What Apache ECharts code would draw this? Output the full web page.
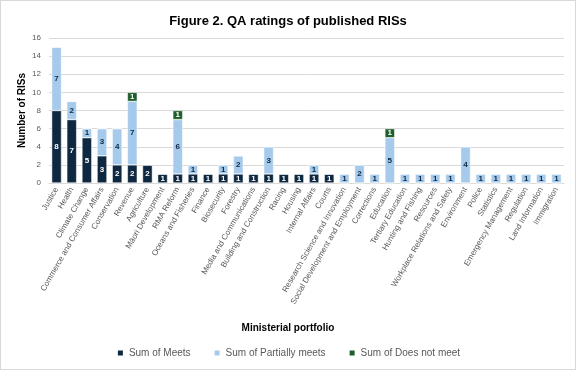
<!DOCTYPE html>
<html>
<head>
<meta charset="utf-8">
<script src="https://cdn.jsdelivr.net/npm/echarts@6/dist/echarts.min.js"></script>
<style>
  html, body { margin: 0; padding: 0; background: #fff; }
  #chart { width: 574px; height: 368px; border: 1px solid #d9d9d9; }
</style>
</head>
<body>
<div id="chart"></div>
<script>
// portfolios along the x axis
var portfolios = ['Justice', 'Health', 'Climate Change', 'Commerce and Consumer Affairs', 'Conservation',
  'Revenue', 'Agriculture', 'Māori Development', 'RMA Reform', 'Oceans and Fisheries', 'Finance',
  'Biosecurity', 'Forestry', 'Media and Communications', 'Building and Construction', 'Racing',
  'Housing', 'Internal Affairs', 'Courts', 'Research Science and Innovation',
  'Social Development and Employment', 'Corrections', 'Education', 'Tertiary Education',
  'Hunting and Fishing', 'Resources', 'Workplace Relations and Safety', 'Environment', 'Police',
  'Statistics', 'Emergency Management', 'Regulation', 'Land Information', 'Immigration'];

var meets =          [8, 7, 5, 3, 2, 2, 2, 1, 1, 1, 1, 1, 1, 1, 1, 1, 1, 1, 1, 0, 0, 0, 0, 0, 0, 0, 0, 0, 0, 0, 0, 0, 0, 0];
var partiallyMeets = [7, 2, 1, 3, 4, 7, 0, 0, 6, 1, 0, 1, 2, 0, 3, 0, 0, 1, 0, 1, 2, 1, 5, 1, 1, 1, 1, 4, 1, 1, 1, 1, 1, 1];
var doesNotMeet =    [0, 0, 0, 0, 0, 1, 0, 0, 1, 0, 0, 0, 0, 0, 0, 0, 0, 0, 0, 0, 0, 0, 1, 0, 0, 0, 0, 0, 0, 0, 0, 0, 0, 0];

var FONT = 'Liberation Sans';

var chart = echarts.init(document.getElementById('chart'));

function segLabel(color) {
  return {
    show: true,
    position: 'inside',
    color: color,
    fontSize: 8,
    fontWeight: 'bold',
    fontFamily: FONT,
    formatter: function (p) { return p.value > 0 ? p.value : ''; }
  };
}

function bars(name, data, color, labelColor) {
  return {
    name: name,
    type: 'bar',
    stack: 'total',
    barCategoryGap: '35%',
    data: data,
    itemStyle: { color: color, borderColor: '#ffffff', borderWidth: 0.5 },
    label: segLabel(labelColor)
  };
}

var option = {
  animation: false,
  textStyle: { fontFamily: FONT },
  title: [{
    text: 'Figure 2. QA ratings of published RISs',
    left: 'center',
    top: 9,
    textStyle: { fontSize: 13, fontWeight: 'bold', color: '#000', fontFamily: FONT }
  }, {
    text: 'Ministerial portfolio',
    left: 'center',
    top: 317,
    textStyle: { fontSize: 10, fontWeight: 'bold', color: '#000', fontFamily: FONT }
  }],
  legend: {
    bottom: 6,
    left: 'center',
    itemWidth: 7,
    itemHeight: 7,
    itemGap: 22,
    icon: 'rect',
    textStyle: { fontSize: 10, color: '#595959', fontFamily: FONT },
    data: ['Sum of Meets', 'Sum of Partially meets', 'Sum of Does not meet']
  },
  grid: { left: 48, right: 11, top: 37, bottom: 186 },
  xAxis: {
    type: 'category',
    data: portfolios,
    axisTick: { show: false },
    axisLine: { lineStyle: { color: '#d9d9d9' } },
    axisLabel: { interval: 0, rotate: 60, fontSize: 8, color: '#595959', margin: 5, fontFamily: FONT }
  },
  yAxis: {
    type: 'value',
    min: 0,
    max: 16,
    interval: 2,
    name: 'Number of RISs',
    nameLocation: 'middle',
    nameRotate: 90,
    nameGap: 22,
    nameMoveOverlap: false,
    nameTextStyle: { fontSize: 10, fontWeight: 'bold', color: '#000', fontFamily: FONT },
    axisLabel: { fontSize: 8, color: '#595959', margin: 8 },
    splitLine: { lineStyle: { color: '#d9d9d9' } }
  },
  series: [
    bars('Sum of Meets', meets, '#0E2841', '#ffffff'),
    bars('Sum of Partially meets', partiallyMeets, '#A6CAEC', '#0E2841'),
    bars('Sum of Does not meet', doesNotMeet, '#1D5E2A', '#ffffff')
  ]
};

chart.setOption(option);
</script>
</body>
</html>
